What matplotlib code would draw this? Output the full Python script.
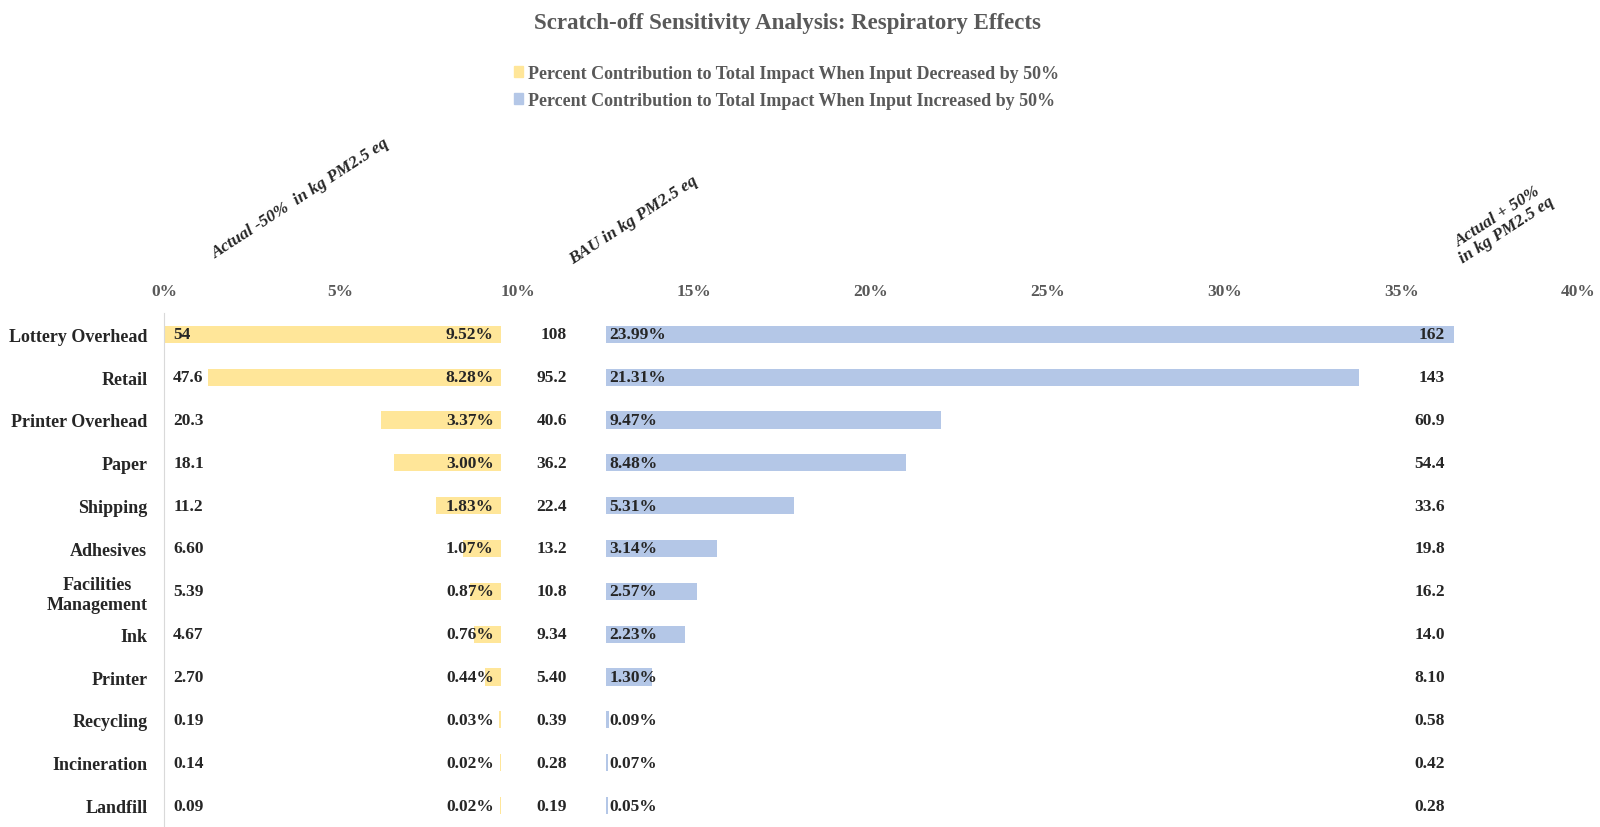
import matplotlib
matplotlib.use("Agg")
import matplotlib.pyplot as plt
from matplotlib.patches import Patch

plt.rcParams['font.family'] = ['Liberation Serif', 'DejaVu Serif']
plt.rcParams['font.weight'] = 'bold'

# data
categories = ['Lottery Overhead', 'Retail', 'Printer Overhead', 'Paper', 'Shipping',
              'Adhesives', 'Facilities\nManagement', 'Ink', 'Printer', 'Recycling',
              'Incineration', 'Landfill']
pct_decreased = [9.52, 8.28, 3.37, 3.00, 1.83, 1.07, 0.87, 0.76, 0.44, 0.03, 0.02, 0.02]
pct_increased = [23.99, 21.31, 9.47, 8.48, 5.31, 3.14, 2.57, 2.23, 1.30, 0.09, 0.07, 0.05]
kg_minus50 = ['54', '47.6', '20.3', '18.1', '11.2', '6.60', '5.39', '4.67', '2.70', '0.19', '0.14', '0.09']
kg_bau = ['108', '95.2', '40.6', '36.2', '22.4', '13.2', '10.8', '9.34', '5.40', '0.39', '0.28', '0.19']
kg_plus50 = ['162', '143', '60.9', '54.4', '33.6', '19.8', '16.2', '14.0', '8.10', '0.58', '0.42', '0.28']
x_ticks = [0, 5, 10, 15, 20, 25, 30, 35, 40]

yellow = '#FFE699'
blue = '#B4C7E7'
txt = '#262626'
grey = '#595959'

fig = plt.figure(figsize=(16, 8.28), dpi=100)
ax = fig.add_axes([0.1025, 0.0, 0.88375, 0.621])

y = list(range(len(categories)))
dec_max = max(pct_decreased)
dec_left = [dec_max - v for v in pct_decreased]
inc_left = 12.5

ax.barh(y, pct_decreased, left=dec_left, height=0.4, color=yellow)
ax.barh(y, pct_increased, left=inc_left, height=0.4, color=blue)

fs = 12.5
for i in y:
    ax.text(0.26, i, kg_minus50[i], ha='left', va='center', fontsize=fs, color=txt)
    ax.text(9.33, i, '{:.2f}%'.format(pct_decreased[i]), ha='right', va='center', fontsize=fs, color=txt)
    ax.text(11.4, i, kg_bau[i], ha='right', va='center', fontsize=fs, color=txt)
    ax.text(12.6, i, '{:.2f}%'.format(pct_increased[i]), ha='left', va='center', fontsize=fs, color=txt)
    ax.text(36.24, i, kg_plus50[i], ha='right', va='center', fontsize=fs, color=txt)

ax.set_xlim(0, 40)
ax.set_ylim(len(categories) - 0.5, -0.5)
ax.xaxis.tick_top()
ax.set_xticks(x_ticks)
ax.set_xticklabels(['{}%'.format(t) for t in x_ticks])
ax.set_yticks(y)
ax.set_yticklabels(categories, multialignment='center')
ax.tick_params(axis='x', length=0, pad=10, labelsize=fs, labelcolor=grey)
ax.tick_params(axis='y', length=0, pad=12, labelsize=13, labelcolor=txt)
for s in ['top', 'right', 'bottom']:
    ax.spines[s].set_visible(False)
ax.spines['left'].set_color('#D9D9D9')

# column headers
fig.text(301 / 1600, 1 - 199 / 828, 'Actual -50%  in kg PM2.5 eq', rotation=33,
         ha='center', va='center', fontsize=fs, style='italic', color=txt)
fig.text(634 / 1600, 1 - 221 / 828, 'BAU in kg PM2.5 eq', rotation=33,
         ha='center', va='center', fontsize=fs, style='italic', color=txt)
fig.text(1502 / 1600, 1 - 224 / 828, 'Actual + 50%\nin kg PM2.5 eq', rotation=33,
         ha='center', va='center', fontsize=fs, style='italic', color=txt,
         multialignment='center', linespacing=1.0)

fig.text(0.492, 1 - 23 / 828, 'Scratch-off Sensitivity Analysis: Respiratory Effects',
         ha='center', va='center', fontsize=16.5, color=grey)

handles = [Patch(color=yellow, label='Percent Contribution to Total Impact When Input Decreased by 50%'),
           Patch(color=blue, label='Percent Contribution to Total Impact When Input Increased by 50%')]
leg = fig.legend(handles=handles, loc='center', bbox_to_anchor=(0.4915, 1 - 88 / 828),
                 frameon=False, fontsize=13, handlelength=0.5, handleheight=0.6,
                 handletextpad=0.25, labelspacing=0.55)
for t in leg.get_texts():
    t.set_color(grey)

fig.savefig('out.png', dpi=100)
